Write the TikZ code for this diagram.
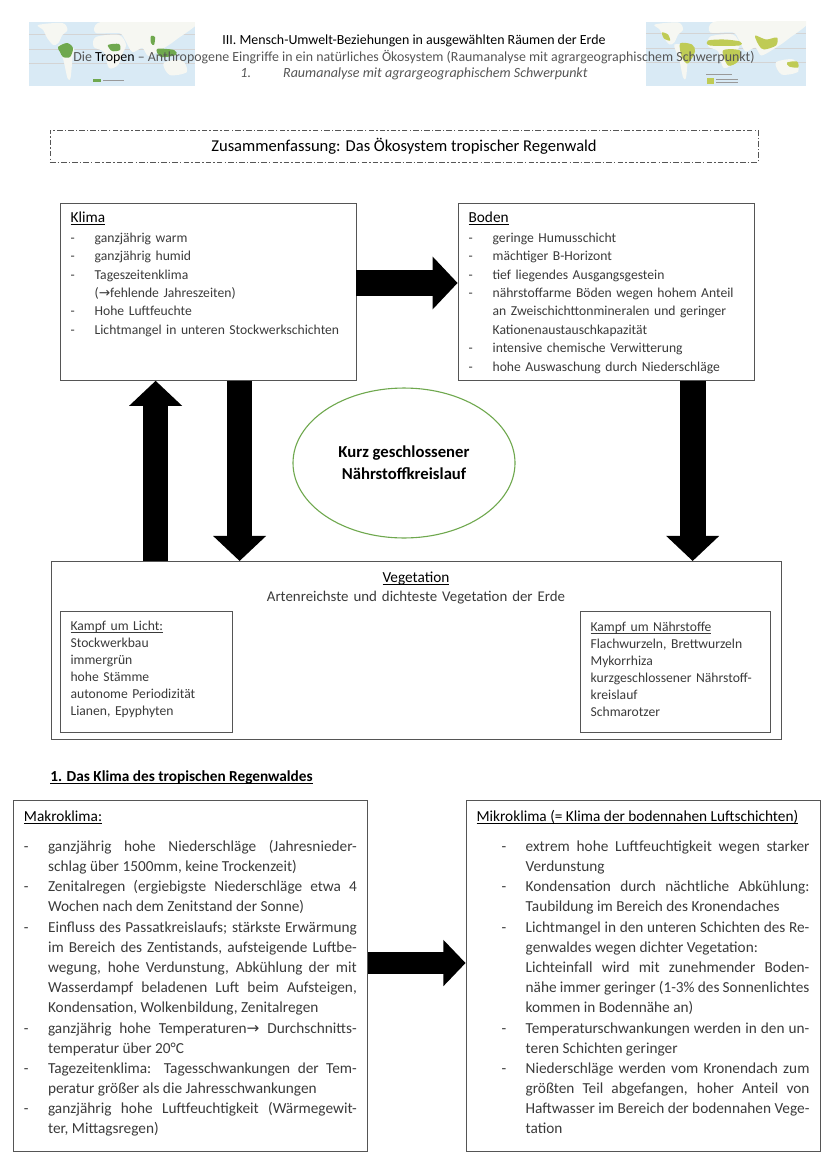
\documentclass[tikz,border=0pt]{standalone}
\usepackage{fontspec}
\setmainfont{Carlito}
\newfontfamily\pfeilfont{DejaVu Sans}
\usetikzlibrary{arrows.meta,shapes.geometric}

\definecolor{boxgrey}{HTML}{555555}
\definecolor{bodytext}{HTML}{3A3A3A}
\definecolor{ocean}{HTML}{D9EAF5}
\definecolor{land}{HTML}{F6F7F2}
\definecolor{tropgreen}{HTML}{6FA84E}
\definecolor{tropyellow}{HTML}{BFCB55}

\newlength{\stichweit}
\setlength{\stichweit}{17.3pt}
\newcommand{\stich}[1]{\par\noindent\hangindent=\stichweit\hangafter=1\makebox[\stichweit][l]{-}#1\par}
\newcommand{\zeile}[1]{\makebox[\stichweit][l]{-}#1}
\newcommand{\strich}[1]{\underline{\smash{#1}}}
\newcommand{\titel}[1]{{\color{black}\strich{#1}}}
\newcommand{\pfeil}{{\pfeilfont →}}

\tikzset{
  textbox/.style={draw=boxgrey,line width=.6pt,anchor=north west,inner xsep=7.6pt,
    inner ysep=0pt,text=bodytext,align=left,font=\fontsize{9.8}{13.2}\selectfont},
  kampfbox/.style={textbox,font=\fontsize{9.8}{12.25}\selectfont},
  langbox/.style={textbox,align=justify,text width=239.3pt,text height=14.8pt,text depth=237.5pt,
    font=\fontsize{11}{14.5}\selectfont},
  blockpfeil/.style={line width=18.5pt,-{Triangle[length=18pt,width=37pt]}},
  kleinpfeil/.style={line width=16pt,-{Triangle[length=16pt,width=32.4pt]}},
  weltkarte/.pic={
    \fill[ocean] (0,0) rectangle (164,64);
    \draw[boxgrey!25,line width=.2pt] (0,12) -- (164,12) (0,27) -- (164,27) (0,41) -- (164,41);
    \begin{scope}
      \clip (0,0) rectangle (164,64);
      \fill[land] plot[smooth cycle] coordinates {(9,3) (33,1) (38,8) (33,13) (29,21) (24,23) (18,16) (14,8)};
      \fill[land] plot[smooth cycle] coordinates {(29,23) (44,26) (43,36) (41,56) (38,56) (34,38)};
      \fill[land] plot[smooth cycle] coordinates {(66,15) (89,13) (96,23) (93,30) (88,43) (79,46) (74,30) (64,25)};
      \fill[land] plot[smooth cycle] coordinates {(66,11) (68,1) (96,-2) (166,-2) (145,18) (130,28) (118,34) (112,26) (102,30) (95,18) (89,11)};
      \fill[land] plot[smooth cycle] coordinates {(133,41) (151,38) (156,50) (139,53)};
    \end{scope}
  },
}

\begin{document}
\begin{tikzpicture}[x=.7189pt,y=-.7189pt]
  \useasboundingbox (0,0) rectangle (828,1171);

  % karten im kopf
  \pic[xscale=1.012] at (29,22) {weltkarte};
  \begin{scope}[shift={(29,22)}]
    \fill[tropgreen] plot[smooth cycle] coordinates {(29,25) (38,21) (44,26) (41,35) (34,35) (31,30)};
    \fill[tropgreen] plot[smooth cycle] coordinates {(79,23) (90,22) (91,28) (83,29)};
    \fill[tropgreen] plot[smooth cycle] coordinates {(122,14) (126,15) (125,23) (122,21)};
    \fill[tropgreen] plot[smooth cycle] coordinates {(128,27) (145,28) (147,33) (132,35)};
    \fill[tropgreen] (64,57) rectangle (72,60);
    \draw[boxgrey!60,line width=.5pt] (74,58.5) -- (95,58.5);
  \end{scope}

  \pic[xscale=.976] at (646,21.5) {weltkarte};
  \begin{scope}[shift={(646,21.5)}]
    \fill[tropyellow] plot[smooth cycle] coordinates {(16,11) (22,13) (24,19) (18,17)};
    \fill[tropyellow] plot[smooth cycle] coordinates {(34,22) (46,23) (49,30) (42,42) (36,36)};
    \fill[tropyellow] plot[smooth cycle] coordinates {(62,19) (78,18) (94,20) (93,24) (64,24)};
    \fill[tropyellow] plot[smooth cycle] coordinates {(77,29) (94,29) (92,40) (82,44)};
    \fill[tropyellow] plot[smooth cycle] coordinates {(109,14) (120,18) (131,16) (130,24) (118,28) (113,24)};
    \fill[tropyellow] plot[smooth cycle] coordinates {(141,41) (151,40) (152,46) (143,45)};
    \fill[tropyellow] (61,56) rectangle (68,62);
    \draw[boxgrey!60,line width=.5pt] (70,58) -- (92,58) (70,61) -- (92,61) (60,53) -- (86,53);
  \end{scope}

  % kopfzeilen
  \node[font=\fontsize{10}{12}\selectfont,anchor=base] (kopfa) at (414,44) {III. Mensch-Umwelt-Beziehungen in ausgewählten Räumen der Erde};
  \node[font=\fontsize{10}{12}\selectfont,text=boxgrey,anchor=base] (kopfb) at (414,61) {Die {\color{black}Tropen} – Anthropogene Eingriffe in ein natürliches Ökosystem (Raumanalyse mit agrargeographischem Schwerpunkt)};
  \node[font=\fontsize{10.1}{12}\itshape\selectfont,text=boxgrey,anchor=base] (kopfc) at (414,77) {1.\hspace{23pt}Raumanalyse mit agrargeographischem Schwerpunkt};

  \node[draw=boxgrey,line width=.5pt,dash pattern=on 4pt off 1.5pt on 1pt off 1.5pt,minimum width=509pt,
    minimum height=23pt,inner sep=0pt,font=\fontsize{11.9}{14}\selectfont] (zusammen) at (404,146)
    {Zusammenfassung: Das Ökosystem tropischer Regenwald};

  % obere kaesten
  \node[textbox,text width=197.6pt,text height=13.7pt,text depth=113.5pt] (klima) at (59.6,203) {{\fontsize{11}{13.2}\selectfont\titel{Klima}}\\[1.2pt]
    \zeile{ganzjährig warm}\\
    \zeile{ganzjährig humid}\\
    \zeile{Tageszeitenklima}\\
    \hspace*{\stichweit}(\pfeil fehlende Jahreszeiten)\\
    \zeile{Hohe Luftfeuchte}\\
    \zeile{Lichtmangel in unteren Stockwerkschichten}};
  \node[textbox,text width=197.6pt,text height=13.7pt,text depth=113.5pt] (boden) at (457.6,203) {{\fontsize{11}{13.2}\selectfont\titel{Boden}}\\[1.2pt]
    \zeile{geringe Humusschicht}\\
    \zeile{mächtiger B-Horizont}\\
    \zeile{tief liegendes Ausgangsgestein}\\
    \zeile{nährstoffarme Böden wegen hohem Anteil}\\
    \hspace*{\stichweit}an Zweischichttonmineralen und geringer\\
    \hspace*{\stichweit}Kationenaustauschkapazität\\
    \zeile{intensive chemische Verwitterung}\\
    \zeile{hohe Auswaschung durch Niederschläge}};

  \node[draw=tropgreen,line width=.8pt,ellipse,minimum width=159.6pt,minimum height=107.8pt,inner sep=0pt,
    align=center,font=\fontsize{12}{16}\bfseries\selectfont] (kreislauf) at (404,463) {Kurz geschlossener\\Nährstoffkreislauf};

  % vegetation
  \node[textbox,align=center,text width=509.6pt,text height=15.1pt,text depth=112.9pt,
    font=\fontsize{10.7}{13.7}\selectfont] (vegetation) at (50.6,561) {{\fontsize{11}{13.7}\selectfont\titel{Vegetation}}\\Artenreichste und dichteste Vegetation der Erde};
  \node[kampfbox,text width=108.5pt,text height=13.7pt,text depth=73.3pt] (licht) at (59.6,611) {\strich{Kampf um Licht:}\\
    Stockwerkbau\\immergrün\\hohe Stämme\\autonome Periodizität\\Lianen, Epyphyten};
  \node[kampfbox,text width=121.4pt,text height=14.4pt,text depth=72.6pt] (naehrstoffe) at (579.6,611) {\strich{Kampf um Nährstoffe}\\
    Flachwurzeln, Brettwurzeln\\Mykorrhiza\\kurzgeschlossener Nährstoff-\\kreislauf\\Schmarotzer};

  \node[font=\fontsize{11}{13}\bfseries\selectfont,anchor=base west,inner sep=0pt] (abschnitt) at (50,781) {\strich{1. Das Klima des tropischen Regenwaldes}};

  % untere kaesten
  \node[langbox] (makro) at (13,800) {\tolerance=10000
    \noindent\titel{Makroklima:}\par\vspace{7.4pt}
    \stich{ganzjährig hohe Niederschläge (Jahresnieder-\linebreak schlag über 1500mm, keine Trockenzeit)}
    \stich{Zenitalregen (ergiebigste Niederschläge etwa 4\linebreak Wochen nach dem Zenitstand der Sonne)}
    \stich{Einfluss des Passatkreislaufs; stärkste Erwärmung\linebreak im Bereich des Zentistands, aufsteigende Luftbe-\linebreak wegung, hohe Verdunstung, Abkühlung der mit\linebreak Wasserdampf beladenen Luft beim Aufsteigen,\linebreak Kondensation, Wolkenbildung, Zenitalregen}
    \stich{ganzjährig hohe Temperaturen\pfeil\ Durchschnitts-\linebreak temperatur über 20°C}
    \stich{Tagezeitenklima: Tagesschwankungen der Tem-\linebreak peratur größer als die Jahresschwankungen}
    \stich{ganzjährig hohe Luftfeuchtigkeit (Wärmegewit-\linebreak ter, Mittagsregen)}};
  \node[langbox] (mikro) at (465.6,800) {\tolerance=10000
    \noindent\titel{Mikroklima (= Klima der bodennahen Luftschichten)}\par\vspace{7.4pt}
    \leftskip=18pt
    \stich{extrem hohe Luftfeuchtigkeit wegen starker\linebreak Verdunstung}
    \stich{Kondensation durch nächtliche Abkühlung:\linebreak Taubildung im Bereich des Kronendaches}
    \stich{Lichtmangel in den unteren Schichten des Re-\linebreak genwaldes wegen dichter Vegetation:\newline Lichteinfall wird mit zunehmender Boden-\linebreak nähe immer geringer (1-3\% des Sonnenlichtes\linebreak kommen in Bodennähe an)}
    \stich{Temperaturschwankungen werden in den un-\linebreak teren Schichten geringer}
    \stich{Niederschläge werden vom Kronendach zum\linebreak größten Teil abgefangen, hoher Anteil von\linebreak Haftwasser im Bereich der bodennahen Vege-\linebreak tation}};

  % pfeile
  \coordinate (klimaOst) at ([yshift=-57.5pt]klima.north east);
  \coordinate (bodenWest) at (klimaOst -| boden.west);
  \coordinate (vegHoch) at ([xshift=75.5pt]vegetation.north west);
  \coordinate (klimaHoch) at (vegHoch |- klima.south);
  \coordinate (klimaRunter) at ([xshift=129.4pt]klima.south west);
  \coordinate (vegRunter) at (klimaRunter |- vegetation.north);
  \coordinate (bodenRunter) at ([xshift=169pt]boden.south west);
  \coordinate (vegRechts) at (bodenRunter |- vegetation.north);
  \coordinate (makroOst) at ([yshift=-117.2pt]makro.north east);
  \coordinate (mikroWest) at (makroOst -| mikro.west);

  \foreach \from/\to in {klimaOst/bodenWest,vegHoch/klimaHoch,klimaRunter/vegRunter,bodenRunter/vegRechts}
    \draw [blockpfeil] (\from) -- (\to);
  \draw [kleinpfeil] (makroOst) -- (mikroWest);
\end{tikzpicture}
\end{document}
